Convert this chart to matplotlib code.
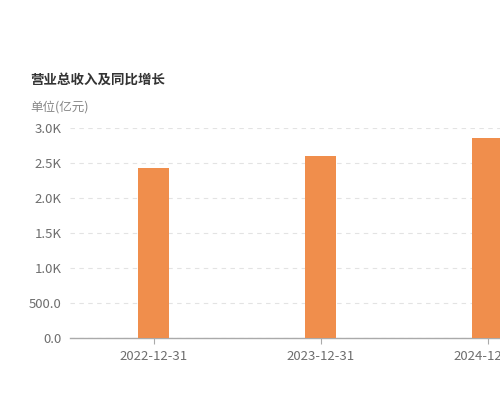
import matplotlib
matplotlib.use("Agg")
import matplotlib.pyplot as plt
from matplotlib.ticker import FixedLocator

plt.rcParams['font.family'] = ['Noto Sans CJK SC', 'DejaVu Sans']

categories = ["2022-12-31", "2023-12-31", "2024-12-31"]
revenue = [2426, 2605, 2853]
y_ticks = [0, 500, 1000, 1500, 2000, 2500, 3000]
y_tick_labels = ["0.0", "500.0", "1.0K", "1.5K", "2.0K", "2.5K", "3.0K"]

fig = plt.figure(figsize=(5, 4), dpi=100)
ax = fig.add_axes([0.14, 0.154, 1.002, 0.526])

x = list(range(len(categories)))
ax.bar(x, revenue, width=0.186, color="#F08E4C", zorder=3)

ax.set_xlim(-0.5, 2.5)
ax.set_ylim(0, 3000)
ax.yaxis.set_major_locator(FixedLocator(y_ticks))
ax.set_yticklabels(y_tick_labels)
ax.set_xticks(x)
ax.set_xticklabels(categories)

for s in ["top", "right", "left"]:
    ax.spines[s].set_visible(False)
ax.spines["bottom"].set_color("#AAAAAA")
ax.spines["bottom"].set_linewidth(1.0)

ax.grid(axis="y", color="#E3E3E3", linestyle=(0, (4, 4)), linewidth=0.8, zorder=0)
ax.tick_params(axis="y", length=0, pad=6, labelsize=9.5, labelcolor="#6E6E6E")
ax.tick_params(axis="x", length=4, color="#AAAAAA", pad=4, labelsize=9.5, labelcolor="#6E6E6E")

fig.text(0.06, 0.80, "营业总收入及同比增长", fontsize=9.7, fontweight="bold",
         color="#333333", ha="left", va="center")
fig.text(0.06, 0.733, "单位(亿元)", fontsize=9, color="#888888", ha="left", va="center")

fig.savefig("out.png", dpi=100)
